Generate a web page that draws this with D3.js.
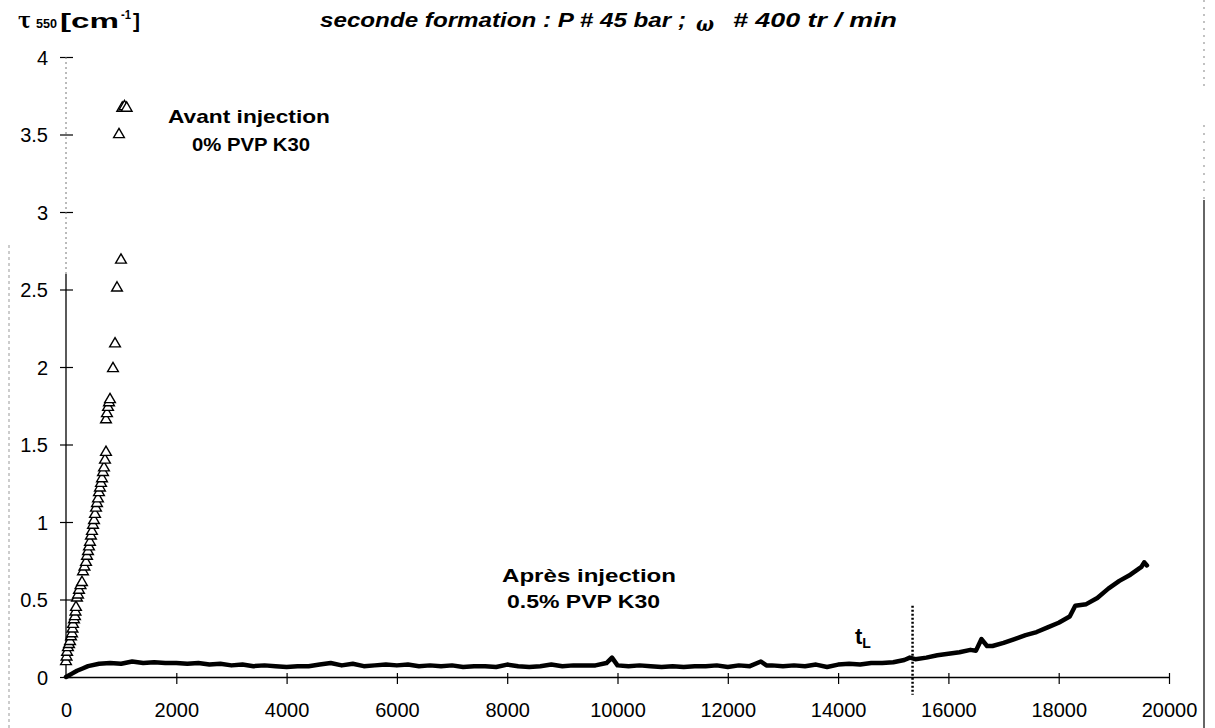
<!DOCTYPE html>
<html><head><meta charset="utf-8">
<script src="https://cdn.jsdelivr.net/npm/d3@7"></script>
<style>body{margin:0;background:#fff}svg{display:block}</style>
</head><body>
<svg id="c" width="1215" height="728"></svg>
<script>
// ---- data ----
const xTicks = [0, 2000, 4000, 6000, 8000, 10000, 12000, 14000, 16000, 18000, 20000];
const yTicks = [0, 0.5, 1, 1.5, 2, 2.5, 3, 3.5, 4];
const yTickLabels = ["0", "0.5", "1", "1.5", "2", "2.5", "3", "3.5", "4"];

// "Avant injection, 0% PVP K30" (open triangles)
const avantT = [0,10,20,35,55,73,91,109,118,127,145,163,172,181,199,218,236,263,290,308,335,363,381,399,417,435,453,471,490,508,526,544,562,580,598,616,635,653,671,689,707,725,725,743,762,780,798,852,889,925,961,997,1020,1060,1100];
const avantV = [0.10,0.13,0.16,0.19,0.21,0.23,0.26,0.28,0.31,0.34,0.37,0.39,0.42,0.45,0.51,0.53,0.56,0.59,0.61,0.68,0.71,0.74,0.78,0.81,0.84,0.87,0.91,0.94,0.98,1.01,1.05,1.09,1.12,1.15,1.19,1.22,1.25,1.28,1.32,1.35,1.40,1.45,1.66,1.70,1.74,1.77,1.79,1.99,2.15,2.51,3.50,2.69,3.67,3.68,3.67];

// "Après injection, 0.5% PVP K30" (thick line)
const apresT = [0,50,100,200,300,400,600,800,1000,1200,1400,1600,1800,2000,2200,2400,2600,2800,3000,3200,3400,3600,3800,4000,4200,4400,4600,4800,5000,5200,5400,5600,5800,6000,6200,6400,6600,6800,7000,7200,7400,7600,7800,8000,8200,8400,8600,8800,9000,9200,9400,9600,9800,9900,10000,10200,10400,10600,10800,11000,11200,11400,11600,11800,12000,12200,12400,12600,12700,12800,13000,13200,13400,13600,13800,14000,14200,14400,14600,14800,15000,15200,15300,15400,15600,15800,16000,16200,16400,16500,16600,16700,16800,17000,17200,17400,17500,17600,17800,18000,18200,18300,18500,18700,18900,19100,19300,19500,19550,19600];
const apresV = [0.0,0.01,0.02,0.04,0.055,0.07,0.085,0.09,0.085,0.10,0.09,0.095,0.09,0.09,0.085,0.09,0.08,0.085,0.075,0.08,0.07,0.075,0.07,0.065,0.07,0.07,0.08,0.09,0.075,0.085,0.07,0.075,0.08,0.075,0.08,0.07,0.075,0.07,0.075,0.065,0.07,0.07,0.065,0.08,0.07,0.065,0.07,0.08,0.07,0.075,0.075,0.075,0.09,0.125,0.075,0.07,0.075,0.07,0.065,0.07,0.065,0.07,0.07,0.075,0.065,0.075,0.07,0.10,0.075,0.075,0.07,0.075,0.07,0.08,0.065,0.08,0.085,0.08,0.09,0.09,0.095,0.11,0.125,0.115,0.125,0.14,0.15,0.16,0.175,0.17,0.245,0.20,0.20,0.22,0.245,0.27,0.28,0.29,0.32,0.35,0.39,0.46,0.47,0.51,0.57,0.62,0.66,0.71,0.74,0.72];

const tL = 15350;
const tLTop = 0.46, tLBottom = -0.115;

// ---- layout ----
const svg = d3.select("#c");
const x = d3.scaleLinear().domain([0, 20000]).range([66, 1169]);
const y = d3.scaleLinear().domain([0, 4]).range([677, 57]);
const FONT = "Arial, 'Liberation Sans', sans-serif";

// frame remnants (scanned page border)
svg.append("line").attr("x1", 1204).attr("x2", 1204).attr("y1", 0).attr("y2", 90)
  .attr("stroke", "#999").attr("stroke-width", 1.2).attr("stroke-dasharray", "2,5");
svg.append("line").attr("x1", 1204).attr("x2", 1204).attr("y1", 125).attr("y2", 200)
  .attr("stroke", "#999").attr("stroke-width", 1.2).attr("stroke-dasharray", "2,6");
svg.append("line").attr("x1", 1204).attr("x2", 1204).attr("y1", 200).attr("y2", 728)
  .attr("stroke", "#333").attr("stroke-width", 1.5);
svg.append("line").attr("x1", 9).attr("x2", 9).attr("y1", 245).attr("y2", 728)
  .attr("stroke", "#999").attr("stroke-width", 1).attr("stroke-dasharray", "3,3");

// y axis
const yAxis = d3.axisLeft(y).tickValues(yTicks).tickFormat((d, i) => yTickLabels[i]).tickSize(0);
const gy = svg.append("g").attr("transform", `translate(${x(0)},0)`).call(yAxis);
gy.select(".domain").remove();
gy.selectAll(".tick text").attr("x", -18).attr("dy", "0.35em")
  .style("font-family", FONT).style("font-size", "20px").attr("fill", "#000");
gy.selectAll(".tick").append("line").attr("x1", -6).attr("x2", 7).attr("y1", 0).attr("y2", 0)
  .attr("stroke", "#000").attr("stroke-width", 1.2);
svg.append("line").attr("x1", x(0)).attr("x2", x(0)).attr("y1", y(4)).attr("y2", y(2.6))
  .attr("stroke", "#777").attr("stroke-width", 1).attr("stroke-dasharray", "2,3");
svg.append("line").attr("x1", x(0)).attr("x2", x(0)).attr("y1", y(2.6)).attr("y2", y(0))
  .attr("stroke", "#000").attr("stroke-width", 1.3);

// x axis
const xAxis = d3.axisBottom(x).tickValues(xTicks).tickFormat(d3.format("d")).tickSize(0);
const gx = svg.append("g").attr("transform", `translate(0,${y(0)})`).call(xAxis);
gx.select(".domain").attr("stroke", "#000").attr("stroke-width", 1.3);
gx.selectAll(".tick text").attr("y", 40).attr("dy", 0)
  .style("font-family", FONT).style("font-size", "20px").attr("fill", "#000");
gx.selectAll(".tick").filter(d => d !== 0).append("line").attr("y1", -4).attr("y2", 7)
  .attr("stroke", "#000").attr("stroke-width", 1.2);

// line series
const line = d3.line().x((d, i) => x(apresT[i])).y(d => y(d));
svg.append("path").datum(apresV).attr("d", line)
  .attr("fill", "none").attr("stroke", "#000").attr("stroke-width", 4.5)
  .attr("stroke-linejoin", "round").attr("stroke-linecap", "round");

// triangles
const tri = d3.symbol().type(d3.symbolTriangle).size(50);
svg.append("g").selectAll("path").data(avantV).join("path")
  .attr("transform", (d, i) => `translate(${x(avantT[i])},${y(d)})`)
  .attr("d", tri).attr("fill", "#fff").attr("stroke", "#000").attr("stroke-width", 1.4);

// tL marker
svg.append("line").attr("x1", x(tL)).attr("x2", x(tL)).attr("y1", y(tLTop)).attr("y2", y(tLBottom))
  .attr("stroke", "#000").attr("stroke-width", 2.5).attr("stroke-dasharray", "2,2");
const tlt = svg.append("text").attr("x", 855).attr("y", 644).style("font-family", FONT)
  .style("font-weight", "bold").style("font-size", "22px");
tlt.append("tspan").text("t");
tlt.append("tspan").attr("dy", 4).style("font-size", "14px").text("L");

// annotations
function ann(txt, x0, x1, yb, size) {
  svg.append("text").attr("x", x0).attr("y", yb).attr("textLength", x1 - x0)
    .attr("lengthAdjust", "spacingAndGlyphs").style("font-family", FONT)
    .style("font-weight", "bold").style("font-size", size + "px").text(txt);
}
ann("Avant injection", 168, 330, 123, 18.5);
ann("0% PVP K30", 192, 310, 151, 18.5);
ann("Après injection", 502, 676, 582, 18.5);
ann("0.5% PVP K30", 507, 660, 608, 18.5);

// title
function tpart(txt, x0, x1, yb, size, fam) {
  svg.append("text").attr("x", x0).attr("y", yb).attr("textLength", x1 - x0)
    .attr("lengthAdjust", "spacingAndGlyphs").style("font-family", fam || FONT)
    .style("font-weight", "bold").style("font-style", "italic").style("font-size", size + "px").text(txt);
}
tpart("seconde formation : P # 45 bar ;", 320, 686, 27, 20);
tpart("ω", 696, 714, 31, 21, "'DejaVu Serif', serif");
tpart("# 400 tr / min", 733, 897, 27, 20);

// y label
function ypart(txt, x0, x1, yb, size, fam) {
  svg.append("text").attr("x", x0).attr("y", yb).attr("textLength", x1 - x0)
    .attr("lengthAdjust", "spacingAndGlyphs").style("font-family", fam || FONT)
    .style("font-weight", "bold").style("font-size", size + "px").text(txt);
}
ypart("τ", 18, 31, 28, 22, "'DejaVu Serif', serif");
ypart("550", 36, 57, 28, 13);
ypart("[cm", 60, 119, 28, 21);
ypart("-1", 121, 131, 19, 12);
ypart("]", 133, 140, 28, 21);
</script>
</body></html>
